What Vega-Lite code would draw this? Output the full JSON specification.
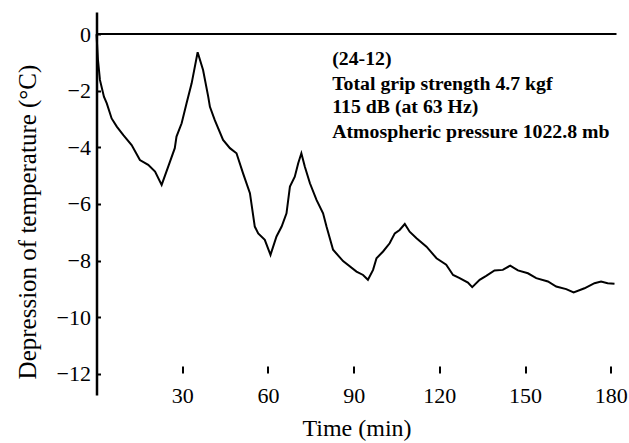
{
  "$schema": "https://vega.github.io/schema/vega-lite/v6.json",
  "width": 520,
  "height": 383,
  "autosize": {"type": "none"},
  "padding": {"left": 96.5, "top": 12, "right": 12.5, "bottom": 48},
  "background": "white",
  "config": {
    "font": "Liberation Serif",
    "view": {"stroke": null},
    "axis": {"grid": false, "labelColor": "black", "titleColor": "black", "tickColor": "black", "domainColor": "black", "titleFontWeight": "normal"}
  },
  "datasets": {
    "curve": [
      {"t": 0, "v": 0}, {"t": 0.5, "v": -0.9}, {"t": 1.2, "v": -1.62}, {"t": 2.6, "v": -2.21},
      {"t": 3.6, "v": -2.45}, {"t": 5.3, "v": -2.98}, {"t": 7.1, "v": -3.27}, {"t": 9.4, "v": -3.57},
      {"t": 12.3, "v": -3.92}, {"t": 15.2, "v": -4.45}, {"t": 18.1, "v": -4.62}, {"t": 20.5, "v": -4.86},
      {"t": 22.8, "v": -5.33}, {"t": 25.1, "v": -4.68}, {"t": 27.4, "v": -4.03}, {"t": 28.0, "v": -3.62},
      {"t": 29.8, "v": -3.15}, {"t": 31.5, "v": -2.45}, {"t": 33.3, "v": -1.74}, {"t": 35.4, "v": -0.64},
      {"t": 37.3, "v": -1.27}, {"t": 39.1, "v": -2.21}, {"t": 39.7, "v": -2.57}, {"t": 41.4, "v": -3.04},
      {"t": 44.3, "v": -3.74}, {"t": 46.7, "v": -4.03}, {"t": 49.0, "v": -4.21}, {"t": 51.3, "v": -4.92},
      {"t": 53.7, "v": -5.62}, {"t": 55.4, "v": -6.8}, {"t": 56.6, "v": -7.04}, {"t": 58.9, "v": -7.27},
      {"t": 60.9, "v": -7.8}, {"t": 63.0, "v": -7.15}, {"t": 64.8, "v": -6.8}, {"t": 66.5, "v": -6.33},
      {"t": 67.7, "v": -5.39}, {"t": 69.4, "v": -5.04}, {"t": 70.6, "v": -4.56}, {"t": 71.7, "v": -4.21},
      {"t": 72.9, "v": -4.68}, {"t": 74.7, "v": -5.27}, {"t": 77.0, "v": -5.86}, {"t": 79.3, "v": -6.33},
      {"t": 80.5, "v": -6.8}, {"t": 82.8, "v": -7.62}, {"t": 86.3, "v": -8.02}, {"t": 91.0, "v": -8.39},
      {"t": 93.3, "v": -8.51}, {"t": 95.0, "v": -8.68}, {"t": 96.8, "v": -8.33}, {"t": 98.0, "v": -7.92},
      {"t": 100.3, "v": -7.68}, {"t": 102.6, "v": -7.39}, {"t": 104.4, "v": -7.04}, {"t": 106.1, "v": -6.92},
      {"t": 107.9, "v": -6.71}, {"t": 109.6, "v": -6.98}, {"t": 112.0, "v": -7.21}, {"t": 115.5, "v": -7.51},
      {"t": 119.0, "v": -7.92}, {"t": 122.4, "v": -8.15}, {"t": 124.8, "v": -8.51}, {"t": 127.1, "v": -8.62},
      {"t": 130.0, "v": -8.78}, {"t": 131.5, "v": -8.94}, {"t": 134.1, "v": -8.68}, {"t": 136.4, "v": -8.54},
      {"t": 139.3, "v": -8.35}, {"t": 142.2, "v": -8.33}, {"t": 144.8, "v": -8.18}, {"t": 147.5, "v": -8.35},
      {"t": 151.0, "v": -8.45}, {"t": 153.9, "v": -8.62}, {"t": 158.0, "v": -8.74}, {"t": 160.9, "v": -8.92},
      {"t": 164.4, "v": -9.01}, {"t": 167.0, "v": -9.13}, {"t": 170.8, "v": -8.98}, {"t": 174.3, "v": -8.8},
      {"t": 176.6, "v": -8.74}, {"t": 178.9, "v": -8.8}, {"t": 181.3, "v": -8.82}
    ],
    "zero": [{"y": 0}],
    "notes": [
      {"x": 82.5, "y": -1.09, "label": "(24-12)"},
      {"x": 82.5, "y": -1.96, "label": "Total grip strength 4.7 kgf"},
      {"x": 82.5, "y": -2.79, "label": "115 dB (at 63 Hz)"},
      {"x": 82.5, "y": -3.67, "label": "Atmospheric pressure 1022.8 mb"}
    ]
  },
  "layer": [
    {
      "data": {"name": "zero"},
      "mark": {"type": "rule", "color": "black", "strokeWidth": 2},
      "encoding": {
        "y": {"field": "y", "type": "quantitative", "scale": {"domain": [-12.75, 0.78], "nice": false, "zero": false}}
      }
    },
    {
      "data": {"name": "curve"},
      "mark": {"type": "line", "color": "black", "strokeWidth": 2},
      "encoding": {
        "x": {
          "field": "t", "type": "quantitative",
          "scale": {"domain": [0, 182], "nice": false, "zero": false},
          "axis": {
            "values": [30, 60, 90, 120, 150, 180],
            "domain": false, "offset": -29, "tickSize": 7, "tickWidth": 2,
            "labelPadding": 12, "labelFontSize": 22,
            "title": "Time (min)", "titleFontSize": 24,
            "titleBaseline": "middle", "titleY": 62
          }
        },
        "y": {
          "field": "v", "type": "quantitative",
          "scale": {"domain": [-12.75, 0.78], "nice": false, "zero": false},
          "axis": {
            "values": [0, -2, -4, -6, -8, -10, -12],
            "domainWidth": 2.5, "tickSize": -4, "tickWidth": 2,
            "labelPadding": 10, "labelFontSize": 22,
            "title": "Depression of temperature (°C)", "titleFontSize": 25,
            "titleBaseline": "alphabetic", "titleX": -61.5, "titleY": 209.5, "titleAngle": -90, "titleAlign": "center"
          }
        }
      }
    },
    {
      "data": {"name": "notes"},
      "mark": {"type": "text", "align": "left", "baseline": "alphabetic", "fontSize": 19.8, "fontWeight": "bold", "color": "black", "font": "Liberation Serif"},
      "encoding": {
        "x": {"field": "x", "type": "quantitative"},
        "y": {"field": "y", "type": "quantitative"},
        "text": {"field": "label"}
      }
    }
  ]
}
